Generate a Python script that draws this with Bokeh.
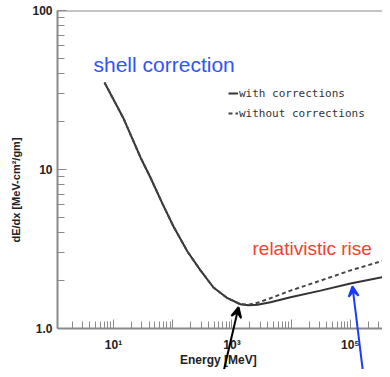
from bokeh.plotting import figure
from bokeh.models import Span, Label, Arrow, VeeHead, Legend, LegendItem
from bokeh.embed import file_html
from bokeh.resources import INLINE

# Energy (MeV) and dE/dx (MeV cm^2/g)
energy = [7.05, 14.8, 28.6, 42, 67, 103, 177, 294, 487, 840, 1390, 1900, 2690, 4470, 9710, 31200, 100000, 470000]
dedx_with = [35.2, 20.9, 11.9, 8.9, 6.1, 4.38, 3.05, 2.32, 1.81, 1.55, 1.42, 1.40, 1.41, 1.46, 1.57, 1.73, 1.92, 2.15]
dedx_without = [35.2, 20.9, 11.9, 8.9, 6.1, 4.38, 3.05, 2.32, 1.81, 1.55, 1.42, 1.41, 1.45, 1.55, 1.73, 2.00, 2.32, 2.75]

x_tick_labels = {1: "", 10: "10¹", 100: "", 1000: "10³", 10000: "", 100000: "10⁵", 1000000: ""}
y_tick_labels = {1: "1.0", 10: "10", 100: "100"}

# annotation anchors (data units)
shell_pos = (4.6, 46.0)
rise_pos = (2220, 3.18)
arrow_black = ((690, 0.5), (1290, 1.36))
arrow_blue = ((166000, 0.5), (108000, 1.84))

p = figure(width=382, height=369, x_axis_type="log", y_axis_type="log",
           x_range=(1.135, 3.47e5), y_range=(0.552, 100.0),
           output_backend="svg", toolbar_location=None,
           min_border_left=57, min_border_right=0, min_border_top=10, min_border_bottom=0)
p.outline_line_color = None
p.xgrid.visible = False
p.ygrid.visible = False
p.background_fill_color = "white"

r1 = p.line(energy, dedx_with, line_color="#333333", line_width=2)
r2 = p.line(energy, dedx_without, line_color="#444444", line_width=2, line_dash="4 3")

p.add_layout(Span(location=100, dimension="width", line_color="#8a8a8a", line_width=2))

for ax in (p.xaxis[0], p.yaxis[0]):
    ax.axis_line_color = "#8a8a8a"
    ax.axis_line_width = 2
    ax.major_tick_line_color = "#8a8a8a"
    ax.minor_tick_line_color = "#8a8a8a"
    ax.major_tick_in = 9
    ax.major_tick_out = 0
    ax.minor_tick_in = 7
    ax.minor_tick_out = 0
    ax.major_label_text_font = "Liberation Sans"
    ax.major_label_text_font_style = "bold"
    ax.major_label_text_font_size = "12px"
    ax.major_label_text_color = "#222222"
    ax.axis_label_text_font = "Liberation Sans"
    ax.axis_label_text_font_style = "bold"
    ax.axis_label_text_color = "#222222"

p.xaxis.fixed_location = 1.0
p.yaxis.bounds = (1.0, 100.0)
p.xaxis.major_label_overrides = x_tick_labels
p.yaxis.major_label_overrides = y_tick_labels
p.xaxis.major_label_standoff = 10
p.yaxis.major_label_standoff = 5
p.xaxis.axis_label = "Energy  [MeV]"
p.yaxis.axis_label = "dE/dx [MeV-cm²/gm]"
p.xaxis.axis_label_text_font_size = "12px"
p.yaxis.axis_label_text_font_size = "11px"
p.xaxis.axis_label_standoff = -3
p.yaxis.axis_label_standoff = 7

legend = Legend(items=[LegendItem(label="with corrections", renderers=[r1]),
                       LegendItem(label="without corrections", renderers=[r2])],
                location=(171, 246), padding=0, margin=0, spacing=0,
                glyph_width=10, glyph_height=20, label_height=20, label_standoff=1,
                label_text_font="DejaVu Sans Mono", label_text_font_size="11px",
                label_text_color="#333333",
                background_fill_alpha=0, border_line_alpha=0)
p.add_layout(legend)

p.add_layout(Label(x=shell_pos[0], y=shell_pos[1], text="shell correction",
                   text_color="#2f55f5", text_font="Liberation Sans", text_font_size="21px",
                   text_baseline="alphabetic"))
p.add_layout(Label(x=rise_pos[0], y=rise_pos[1], text="relativistic rise",
                   text_color="#f5402f", text_font="Liberation Sans", text_font_size="19px",
                   text_baseline="alphabetic"))

for (start, end), col in ((arrow_black, "black"), (arrow_blue, "#1a3cff")):
    p.add_layout(Arrow(x_start=start[0], y_start=start[1], x_end=end[0], y_end=end[1],
                       line_color=col, line_width=2,
                       end=VeeHead(size=10, line_color=col, fill_color=col, line_width=2)))

open("out.html", "w").write(file_html(p, INLINE))
